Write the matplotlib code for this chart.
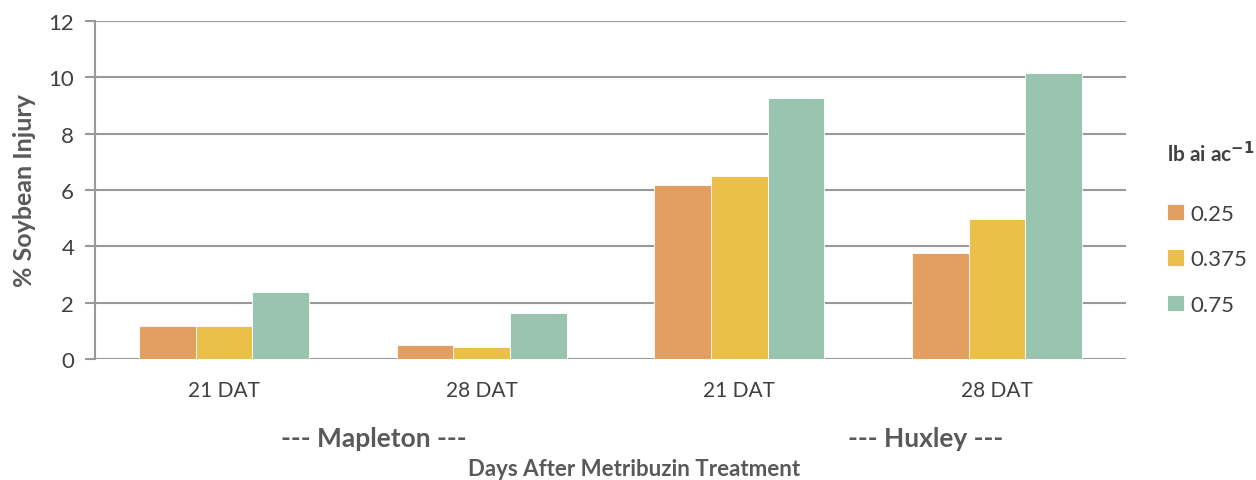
import numpy as np
import matplotlib.pyplot as plt

# data
categories = ['21 DAT', '28 DAT', '21 DAT', '28 DAT']
rates = ['0.25', '0.375', '0.75']
inj_025 = [1.17, 0.50, 6.17, 3.78]
inj_0375 = [1.17, 0.43, 6.50, 4.97]
inj_075 = [2.37, 1.63, 9.25, 10.17]
locations = ['--- Mapleton ---', '--- Huxley ---']

colors = ['#E39F5F', '#EABF4A', '#99C5B0']
txt = '#404040'

plt.rcParams['font.family'] = ['Lato', 'DejaVu Sans']

fig = plt.figure(figsize=(12.56, 4.81), dpi=100)
ax = fig.add_axes([95/1256, 1 - 360/481, 1031/1256, 338/481])

x = np.arange(len(categories))
w = 0.22
for i, (vals, c, lab) in enumerate(zip([inj_025, inj_0375, inj_075], colors, rates)):
    ax.bar(x + (i - 1) * w, vals, w, color=c, edgecolor='white', linewidth=0.6, label=lab, zorder=3)

ax.set_xlim(-0.5, 3.5)
ax.set_ylim(0, 12)
ax.set_yticks(range(0, 13, 2))
ax.set_xticks(x)
ax.set_xticklabels(categories)
ax.grid(axis='y', color='#999999', linewidth=1.5, zorder=0)
ax.tick_params(axis='x', length=0, pad=15, labelsize=15, colors=txt)
ax.tick_params(axis='y', length=7, width=1.5, color='#999999', labelsize=16, colors=txt, pad=8)
for s in ['top', 'right', 'bottom']:
    ax.spines[s].set_visible(False)
ax.spines['left'].set_color('#999999')
ax.spines['left'].set_linewidth(1.5)

ax.set_ylabel('% Soybean Injury', fontsize=18, fontweight='bold', color='#595959', labelpad=9)

ax.text(0.27, -0.235, locations[0], transform=ax.transAxes, ha='center', va='center',
        fontsize=19, fontweight='bold', color='#595959')
ax.text(0.806, -0.235, locations[1], transform=ax.transAxes, ha='center', va='center',
        fontsize=19, fontweight='bold', color='#595959')
fig.text(634/1256, 1 - 470/481, 'Days After Metribuzin Treatment', ha='center', va='center',
         fontsize=16, fontweight='bold', color='#595959')

leg = ax.legend(loc='center left', bbox_to_anchor=(1.04, 0.39), frameon=False, fontsize=16,
                title='lb ai ac$^{\\mathbf{-1}}$', handlelength=0.75, handleheight=0.75,
                handletextpad=0.3, labelspacing=1.15, borderaxespad=0, borderpad=0)
leg.get_title().set_fontweight('bold')
leg.get_title().set_fontsize(15)
leg.get_title().set_color(txt)
leg._legend_box.sep = 28
leg._legend_box.align = 'left'
for t in leg.get_texts():
    t.set_color(txt)

plt.savefig('out.png', dpi=100)
